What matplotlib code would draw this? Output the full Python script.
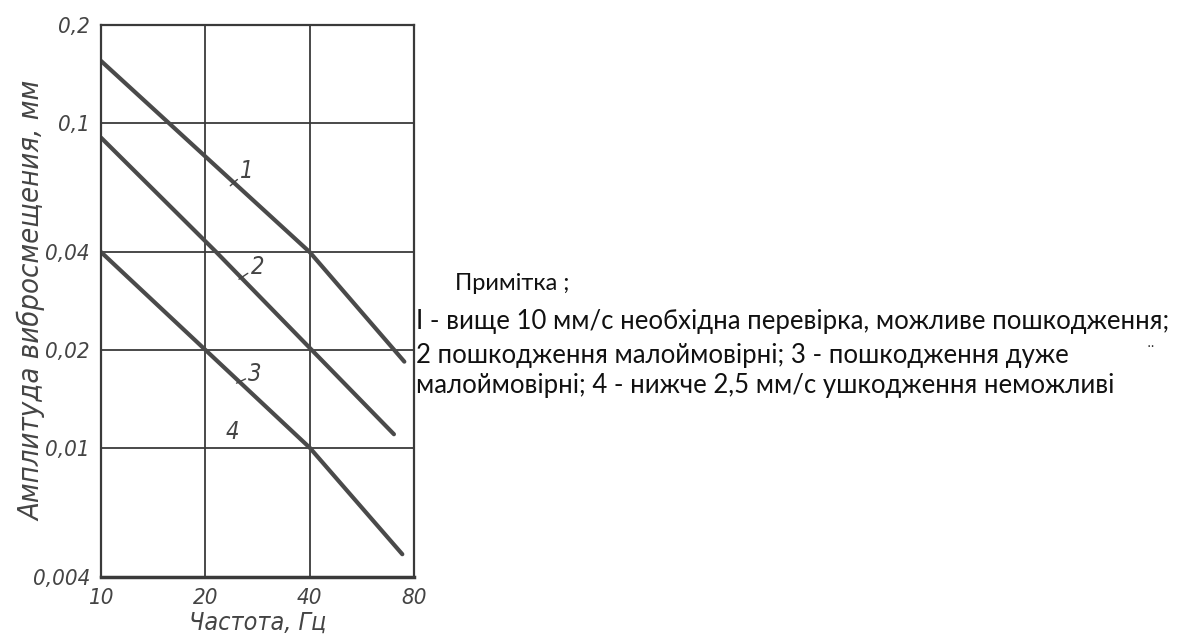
import matplotlib.pyplot as plt
import numpy as np

# частота, Гц и амплитуда, мм для каждой кривой
freq1 = [10, 40, 75]
amp1 = [0.155, 0.04, 0.0184]
freq2 = [10, 21.5, 70]
amp2 = [0.09, 0.04, 0.011]
freq3 = [10, 20, 40, 74]
amp3 = [0.04, 0.02, 0.01, 0.0047]

xticks = [10, 20, 40, 80]
xtick_labels = ['10', '20', '40', '80']
yticks = [0.004, 0.01, 0.02, 0.04, 0.1, 0.2]
ytick_labels = ['0,004', '0,01', '0,02', '0,04', '0,1', '0,2']

note_title = 'Примітка ;'
note_lines = [
    'І - вище 10 мм/с необхідна перевірка, можливе пошкодження;',
    '2 пошкодження малоймовірні; 3 - пошкодження дуже',
    'малоймовірні; 4 - нижче 2,5 мм/с ушкодження неможливі',
]

ink = '#3a3a3a'
lbl = dict(family='DejaVu Sans', style='italic', stretch='condensed', color='#444444')

fig = plt.figure(figsize=(11.83, 6.37), dpi=100)
ax = fig.add_axes([0.0854, 0.0942, 0.2646, 0.8666])
ax.set_xscale('log')
ax.set_yscale('log')
ax.set_xlim(10, 80)
ax.set_ylim(0.004, 0.2)

for fr, am in [(freq1, amp1), (freq2, amp2), (freq3, amp3)]:
    ax.plot(fr, am, color='#4a4a4a', lw=3.0, solid_capstyle='round')

ax.minorticks_off()
ax.set_xticks(xticks)
ax.set_xticklabels(xtick_labels, fontsize=16, **lbl)
ax.set_yticks(yticks)
ax.set_yticklabels(ytick_labels, fontsize=16, **lbl)
ax.tick_params(length=0, pad=8)
ax.grid(True, color=ink, lw=1.3)
for s in ax.spines.values():
    s.set_color(ink)
    s.set_linewidth(1.6)
ax.spines['bottom'].set_linewidth(2.5)

# номера кривых с выносками
labels = [('1', (23.6, 0.064), (25.2, 0.071)),
          ('2', (25.0, 0.033), (27.0, 0.036)),
          ('3', (24.6, 0.0158), (26.6, 0.0168))]
for t, p, q in labels:
    ax.annotate(t, xy=p, xytext=q, fontsize=17, ha='left', va='center',
                arrowprops=dict(arrowstyle='-', color='#444444', lw=1.0,
                                shrinkA=0, shrinkB=0), **lbl)
ax.text(24.0, 0.0112, '4', fontsize=17, ha='center', va='center', **lbl)

ax.set_xlabel('Частота, Гц', fontsize=18, labelpad=2, **lbl)
ax.set_ylabel('Амплитуда вибросмещения, мм', fontsize=21, **lbl)
ax.yaxis.set_label_coords(-0.176, 0.5)

fig.text(455 / 1183, 1 - 283 / 637, note_title, fontsize=17,
         family='Lato', color='#111111', va='center')
for y, line in zip([322, 355, 385], note_lines):
    fig.text(416 / 1183, 1 - y / 637, line, fontsize=18.5,
             family='Lato', color='#111111', va='center')
fig.text(1147 / 1183, 1 - 347 / 637, '··', fontsize=10, color='#333333', va='center')

fig.savefig('out.png', dpi=100)
